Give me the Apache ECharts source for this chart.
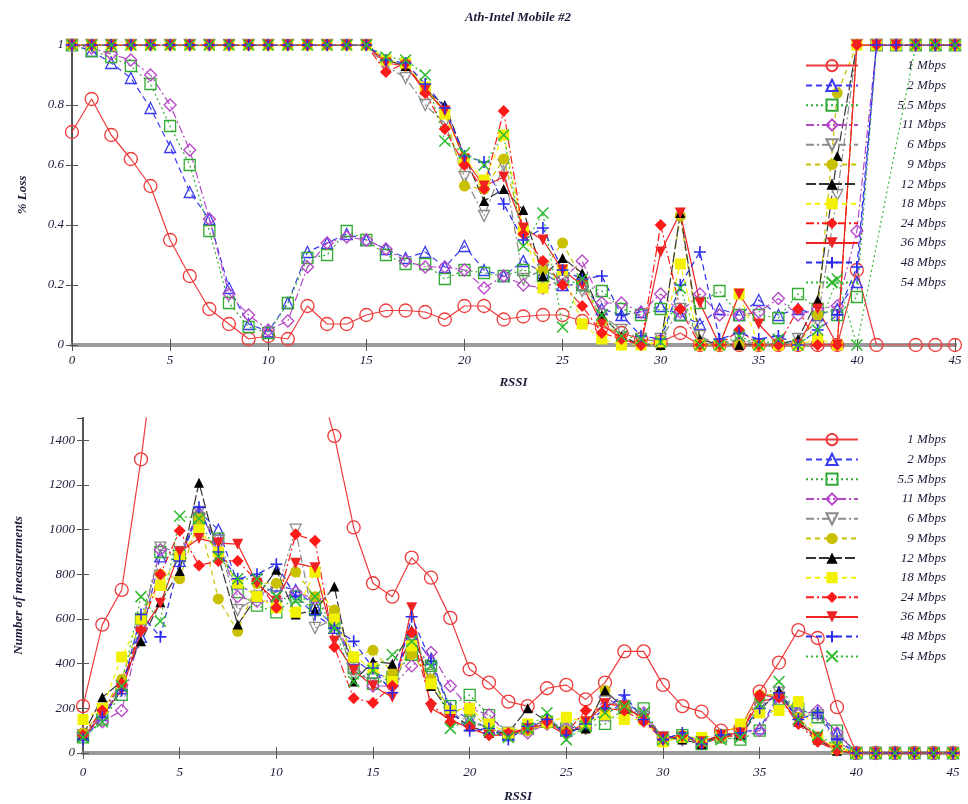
<!DOCTYPE html>
<html><head><meta charset="utf-8">
<script src="https://cdn.jsdelivr.net/npm/echarts@6/dist/echarts.min.js"></script>
<style>html,body{margin:0;padding:0;background:#fff}#c{width:968px;height:804px}</style>
</head><body><div id="c"></div>
<script>
const rssi = [0,1,2,3,4,5,6,7,8,9,10,11,12,13,14,15,16,17,18,19,20,21,22,23,24,25,26,27,28,29,30,31,32,33,34,35,36,37,38,39,40,41,42,43,44,45];
const seriesNames = ['1 Mbps','2 Mbps','5.5 Mbps','11 Mbps','6 Mbps','9 Mbps','12 Mbps','18 Mbps','24 Mbps','36 Mbps','48 Mbps','54 Mbps'];
const xTicks = [0,5,10,15,20,25,30,35,40,45];
const lossTicks = [0,0.2,0.4,0.6,0.8,1];
const countTicks = [0,200,400,600,800,1000,1200,1400];

// Top panel: % Loss
const loss_1  = [0.71,0.82,0.70,0.62,0.53,0.35,0.23,0.12,0.07,0.02,0.03,0.02,0.13,0.07,0.07,0.10,0.115,0.115,0.11,0.085,0.13,0.13,0.085,0.095,0.10,0.10,0.08,0.06,0.04,0.02,0.01,0.04,0,0,0,0,0,0,0,0,0.25,0,null,0,0,0];
const loss_2  = [1,0.98,0.94,0.89,0.79,0.66,0.51,0.42,0.19,0.07,0.045,0.14,0.31,0.34,0.37,0.35,0.32,0.29,0.31,0.26,0.33,0.25,0.23,0.28,0.24,0.2,0.2,0.12,0.1,0.11,0.13,0.1,0.07,0.12,0.1,0.15,0.1,0.12,0.1,0.12,0.21,1,1,1,1,1];
const loss_55 = [1,0.98,0.96,0.93,0.87,0.73,0.6,0.38,0.14,0.06,0.04,0.14,0.29,0.3,0.38,0.35,0.3,0.27,0.27,0.22,0.25,0.24,0.23,0.25,0.23,0.22,0.2,0.18,0.12,0.1,0.12,0.1,0.14,0.18,0.1,0.1,0.09,0.17,0.12,0.1,0.16,1,1,1,1,1];
const loss_11 = [1,0.99,0.97,0.95,0.9,0.8,0.65,0.42,0.17,0.1,0.05,0.08,0.26,0.34,0.36,0.35,0.32,0.28,0.26,0.26,0.25,0.19,0.23,0.2,0.19,0.22,0.28,0.14,0.14,0.11,0.17,0.11,0.17,0.1,0.1,0.11,0.155,0.1,0.12,0.13,0.38,1,1,1,1,1];
const loss_6  = [1,1,1,1,1,1,1,1,1,1,1,1,1,1,1,1,0.93,0.89,0.8,0.74,0.56,0.43,0.6,0.22,0.25,0.22,0.18,0.1,0.05,0.02,0.02,0.12,0.03,0,0.02,0,0,0.02,0.08,0.5,1,1,1,1,1,1];
const loss_9  = [1,1,1,1,1,1,1,1,1,1,1,1,1,1,1,1,0.95,0.93,0.86,0.78,0.53,0.52,0.62,0.38,0.25,0.34,0.22,0.08,0.02,0,0,0.43,0,0,0,0,0,0,0.1,0.84,1,1,1,1,1,1];
const loss_12 = [1,1,1,1,1,1,1,1,1,1,1,1,1,1,1,1,0.95,0.93,0.85,0.8,0.63,0.48,0.52,0.45,0.23,0.29,0.24,0.1,0.03,0,0,0.44,0.02,0,0,0,0,0.02,0.15,0.63,1,1,1,1,1,1];
const loss_18 = [1,1,1,1,1,1,1,1,1,1,1,1,1,1,1,1,0.95,0.94,0.86,0.77,0.62,0.55,0.7,0.38,0.19,0.25,0.07,0.02,0,0,0.01,0.27,0,0,0.17,0,0,0,0.02,0,1,1,1,1,1,1];
const loss_24 = [1,1,1,1,1,1,1,1,1,1,1,1,1,1,1,1,0.91,0.94,0.84,0.72,0.6,0.52,0.78,0.37,0.28,0.2,0.13,0.04,0.02,0,0.4,0.12,0,0,0.05,0,0,0.12,0,0,1,1,1,1,1,1];
const loss_36 = [1,1,1,1,1,1,1,1,1,1,1,1,1,1,1,1,0.94,0.93,0.85,0.78,0.62,0.53,0.56,0.39,0.35,0.25,0.2,0.07,0.02,0,0.31,0.44,0.14,0,0.17,0.07,0,0,0.12,0,1,1,1,1,1,1];
const loss_48 = [1,1,1,1,1,1,1,1,1,1,1,1,1,1,1,1,0.95,0.94,0.87,0.79,0.63,0.61,0.47,0.35,0.39,0.25,0.22,0.23,0.1,0.03,0.02,0.2,0.31,0.02,0.04,0.02,0.03,0,0.05,0.1,0.26,1,1,1,1,1];
const loss_54 = [1,1,1,1,1,1,1,1,1,1,1,1,1,1,1,1,0.96,0.95,0.9,0.68,0.64,0.6,0.7,0.33,0.44,0.06,0.22,0.1,0.03,0.02,0.01,0.19,0,0,0.03,0,0.02,0,0.05,0.22,0,null,null,1,1,1];

// Bottom panel: Number of measurements
const cnt_1  = [210,575,730,1315,1990,2400,2700,2800,2700,2600,2400,2100,1720,1420,1010,760,700,875,785,605,375,315,230,210,290,305,240,315,455,455,305,210,185,100,110,275,405,550,515,205,0,0,0,0,0,0];
const cnt_2  = [80,170,290,520,880,860,1080,1000,760,700,750,730,660,560,420,360,330,530,420,200,150,110,80,110,150,100,140,170,230,170,70,80,50,80,90,110,260,190,180,90,0,0,0,0,0,0];
const cnt_55 = [70,150,260,600,900,880,1050,960,720,660,630,700,640,580,380,310,340,440,390,210,260,170,90,110,140,110,120,130,200,200,60,80,40,70,60,100,240,200,160,100,0,0,0,0,0,0];
const cnt_11 = [90,140,190,560,910,890,1070,940,700,680,680,720,690,600,400,300,300,390,450,300,200,170,80,90,130,110,110,250,200,180,70,60,50,80,90,100,250,170,190,90,0,0,0,0,0,0];
const cnt_6  = [80,180,300,560,920,900,1080,950,640,700,720,1000,560,600,350,330,300,480,350,180,140,110,90,100,130,100,110,230,210,160,70,60,50,80,90,200,270,170,170,50,0,0,0,0,0,0];
const cnt_9  = [90,190,330,600,800,780,1050,690,545,760,760,810,700,640,430,460,360,440,330,190,190,110,80,100,130,100,110,280,200,150,70,80,60,70,110,260,260,160,70,30,0,0,0,0,0,0];
const cnt_12 = [80,250,320,500,675,815,1210,880,575,700,820,620,640,745,320,410,400,550,300,180,120,90,90,200,140,100,110,280,200,160,70,60,40,80,80,190,280,140,60,10,0,0,0,0,0,0];
const cnt_18 = [150,200,430,600,750,880,1000,900,760,700,650,630,810,600,430,380,320,480,310,190,200,130,90,130,140,160,140,170,150,150,50,70,70,80,130,180,190,230,70,20,0,0,0,0,0,0];
const cnt_24 = [80,190,310,550,800,995,840,860,860,770,650,980,950,475,245,225,300,540,220,140,120,80,90,110,140,90,190,200,190,140,60,80,40,70,80,260,250,130,50,10,0,0,0,0,0,0];
const cnt_36 = [70,170,280,540,670,900,960,940,935,760,680,850,830,500,370,300,250,650,200,150,110,80,80,110,130,80,140,220,210,150,70,70,50,80,90,230,250,140,70,10,0,0,0,0,0,0];
const cnt_48 = [60,160,280,620,520,860,1100,900,780,800,845,700,620,560,500,380,270,610,410,190,100,110,60,120,150,80,130,200,260,150,60,90,40,80,90,200,270,150,180,60,0,0,0,0,0,0];
const cnt_54 = [70,140,300,700,590,1060,1050,880,780,780,700,680,700,560,320,370,440,500,390,110,150,100,70,110,180,60,120,180,210,180,60,70,50,60,70,220,320,150,80,30,0,0,0,0,0,0];

const lossData  = [loss_1,loss_2,loss_55,loss_11,loss_6,loss_9,loss_12,loss_18,loss_24,loss_36,loss_48,loss_54];
const countData = [cnt_1,cnt_2,cnt_55,cnt_11,cnt_6,cnt_9,cnt_12,cnt_18,cnt_24,cnt_36,cnt_48,cnt_54];

const DOWN = 'path://M0 0L10 0L5 9Z';
const UP = 'path://M5 0L10 9L0 9Z';
const PLUS = 'path://M5 0L5 10M0 5L10 5';
const CROSS = 'path://M0 0L10 10M10 0L0 10';
const styles = [
  {color:'#ee3b3b', symbol:'circle', kind:'open', dash:'solid', size:13},
  {color:'#3a3aee', symbol:UP, kind:'open', dash:[6,4], size:11},
  {color:'#33aa33', symbol:'rect', kind:'open', dash:[2,3], size:11},
  {color:'#b648c8', symbol:'diamond', kind:'open', dash:[8,3,2,3], size:12},
  {color:'#8a8a8a', symbol:DOWN, kind:'open', dash:[8,3,2,3], size:11},
  {color:'#c8c000', symbol:'circle', kind:'fill', dash:[5,4], size:11},
  {color:'#000000', line:'#333333', symbol:UP, kind:'fill', dash:[10,3], size:10},
  {color:'#f2f200', symbol:'rect', kind:'fill', dash:[5,4], size:11},
  {color:'#ff1a1a', symbol:'diamond', kind:'fill', dash:[8,3,2,3], size:12},
  {color:'#ee2222', symbol:DOWN, kind:'fill', dash:'solid', size:11},
  {color:'#2a2aee', symbol:PLUS, kind:'stroke', dash:[6,4], size:12},
  {color:'#33bb33', symbol:CROSS, kind:'stroke', dash:[2,3], size:11}
];

const FONT = 'Liberation Serif';
function itemStyleFor(s){
  if (s.kind === 'open') return {color:'rgba(255,255,255,0)', borderColor:s.color, borderWidth:1.3};
  if (s.kind === 'stroke') return {color:'rgba(255,255,255,0)', borderColor:s.color, borderWidth:1.6};
  return {color:s.color, borderColor:s.color, borderWidth:0};
}
function mkSeries(i, data, gi){
  const s = styles[i];
  return {
    type:'line', name:seriesNames[i], xAxisIndex:gi*2, yAxisIndex:gi*2,
    data: rssi.map((x,k)=>[x, data[k]]),
    symbol:s.symbol, symbolSize:s.size, connectNulls:true, clip:true,
    lineStyle:{color:s.line||s.color, width:1.2, type:s.dash},
    itemStyle:itemStyleFor(s),
    emphasis:{disabled:true}, animation:false, z:3
  };
}
function mkLegend(top){
  return {
    top:top, left:805, orient:'vertical', padding:0,
    itemWidth:52, itemHeight:14, itemGap:6.6, selectedMode:false,
    data:seriesNames,
    formatter: n => '{t|' + n + '}',
    textStyle:{rich:{t:{width:83, align:'right', fontFamily:FONT, fontStyle:'italic', fontSize:13, color:'#1b1b3a', lineHeight:14}}}
  };
}
const labelStyle = {fontFamily:FONT, fontStyle:'italic', fontSize:13, color:'#1b1b3a'};
const nameStyle = {fontFamily:FONT, fontStyle:'italic', fontWeight:'bold', fontSize:13, color:'#1b1b3a'};
const hLine = {show:true, lineStyle:{color:'#9a9a9a', width:4}};
const vLine = {show:true, lineStyle:{color:'#555', width:2}};
const tick = {show:true, inside:true, length:6, lineStyle:{color:'#555', width:1}};

function xAx(gi, pos, margin, gap){
  const bottom = pos === 'bottom';
  return {type:'value', gridIndex:gi, position:pos, min:0, max:45, interval:5,
    axisLine:hLine, axisTick:tick, splitLine:{show:false},
    axisLabel:{show:bottom, margin:margin, ...labelStyle, formatter: v => xTicks.includes(v) ? String(v) : ''},
    name: bottom ? 'RSSI' : '', nameLocation:'middle', nameGap:gap, nameTextStyle:nameStyle};
}
function yAx(gi, pos, max, interval, ticks, name, gap){
  const left = pos === 'left';
  return {type:'value', gridIndex:gi, position:pos, min:0, max:max, interval:interval,
    axisLine:vLine, axisTick:tick, splitLine:{show:false},
    axisLabel:{show:left, margin:8, showMaxLabel: ticks.includes(max), ...labelStyle, formatter: v => ticks.includes(v) ? String(v) : ''},
    name: left ? name : '', nameLocation:'middle', nameGap:gap, nameTextStyle:nameStyle};
}

const series = [];
for (let i = 0; i < 12; i++) series.push(mkSeries(i, lossData[i], 0));
for (let i = 0; i < 12; i++) series.push(mkSeries(i, countData[i], 1));

const chart = echarts.init(document.getElementById('c'), null, {renderer:'canvas'});
chart.setOption({
  backgroundColor:'#ffffff',
  animation:false,
  title:{text:'Ath-Intel Mobile #2', left:513, top:6, textAlign:'center',
    textStyle:{fontFamily:FONT, fontStyle:'italic', fontWeight:'bold', fontSize:13, color:'#1b1b3a'}},
  grid:[
    {left:72, top:45, right:13, height:300},
    {left:83, top:418, right:15, bottom:48}
  ],
  xAxis:[xAx(0,'bottom',9,31), xAx(0,'top',9,31), xAx(1,'bottom',13,37), xAx(1,'top',13,37)],
  yAxis:[
    yAx(0,'left',1,0.2,lossTicks,'% Loss',43),
    yAx(0,'right',1,0.2,lossTicks,'',0),
    yAx(1,'left',1500,200,countTicks,'Number of measurements',58),
    yAx(1,'right',1500,200,countTicks,'',0)
  ],
  legend:[mkLegend(59), mkLegend(433)],
  series:series
});
</script></body></html>
